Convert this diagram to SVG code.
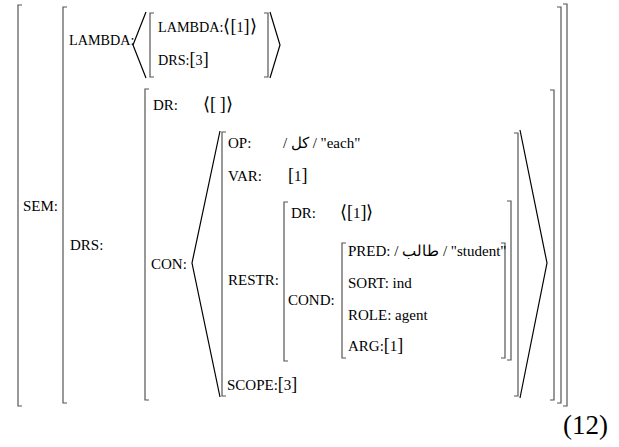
<svg xmlns="http://www.w3.org/2000/svg" width="619" height="447" viewBox="0 0 619 447">
<style>
text{font-family:'Liberation Serif','Times New Roman',serif;font-size:15px;fill:#000}
.lam{font-size:14.2px}
.b{font-size:18px}
.br{fill:none;stroke:#555;stroke-width:1.2}
.ang{fill:none;stroke:#000;stroke-width:1.2}
.num{font-size:27px}
</style>
<rect width="619" height="447" fill="#fff"/>
<g id="brackets">
<path class="br" d="M22,5H18V406H22M563,4H567V406H563"/>
<path class="br" d="M67,7H63V403H67M557,7H561V403H557"/>
<path class="br" d="M149,89H145V400H149M550,90H554V400H550"/>
<path class="br" d="M226,132H222V396H226M514,133H518V396H514"/>
<path class="br" d="M288,202H284V361H288M507,201H511V360H507"/>
<path class="br" d="M346,243H342V358H346M501,243H505V358H501"/>
<path class="br" d="M154,13H150V77H154M264,13H268V77H264"/>
<polyline class="ang" points="146,12 133,45 146,78"/>
<polyline class="ang" points="270,12 280,45 270,78"/>
<polyline class="ang" points="220,131 192,263 220,397"/>
<polyline class="ang" points="520,130 547,263 520,398"/>
</g>
<g id="sem"><text x="23" y="211">SEM:</text></g>
<g id="lambda">
<text class="lam" x="69" y="45">LAMBDA:</text>
<text class="lam" x="158" y="32">LAMBDA:<tspan class="b">⟨[</tspan>1<tspan class="b">]⟩</tspan></text>
<text class="lam" x="158" y="65">DRS:<tspan class="b">[</tspan>3<tspan class="b">]</tspan></text>
</g>
<g id="drs">
<text x="70" y="250">DRS:</text>
<text x="153" y="110">DR:</text>
<text x="203" y="110"><tspan class="b">⟨[</tspan> <tspan class="b">]⟩</tspan></text>
<text x="151" y="269">CON:</text>
</g>
<g id="con">
<text x="228" y="148">OP:</text>
<text x="283" y="148">/ كل / "each"</text>
<text x="228" y="181">VAR:</text>
<text x="288" y="181"><tspan class="b">[</tspan>1<tspan class="b">]</tspan></text>
<text x="228" y="285">RESTR:</text>
<text x="227" y="390">SCOPE:<tspan class="b">[</tspan>3<tspan class="b">]</tspan></text>
</g>
<g id="restr">
<text x="291" y="218">DR:</text>
<text x="340" y="218"><tspan class="b">⟨[</tspan>1<tspan class="b">]⟩</tspan></text>
<text x="288" y="305">COND:</text>
</g>
<g id="cond">
<text x="348" y="256">PRED: / طالب / "student"</text>
<text x="348" y="288">SORT: ind</text>
<text x="348" y="320">ROLE: agent</text>
<text x="348" y="351">ARG:<tspan class="b">[</tspan>1<tspan class="b">]</tspan></text>
</g>
<g id="label"><text class="num" x="563" y="434">(12)</text></g>
</svg>
